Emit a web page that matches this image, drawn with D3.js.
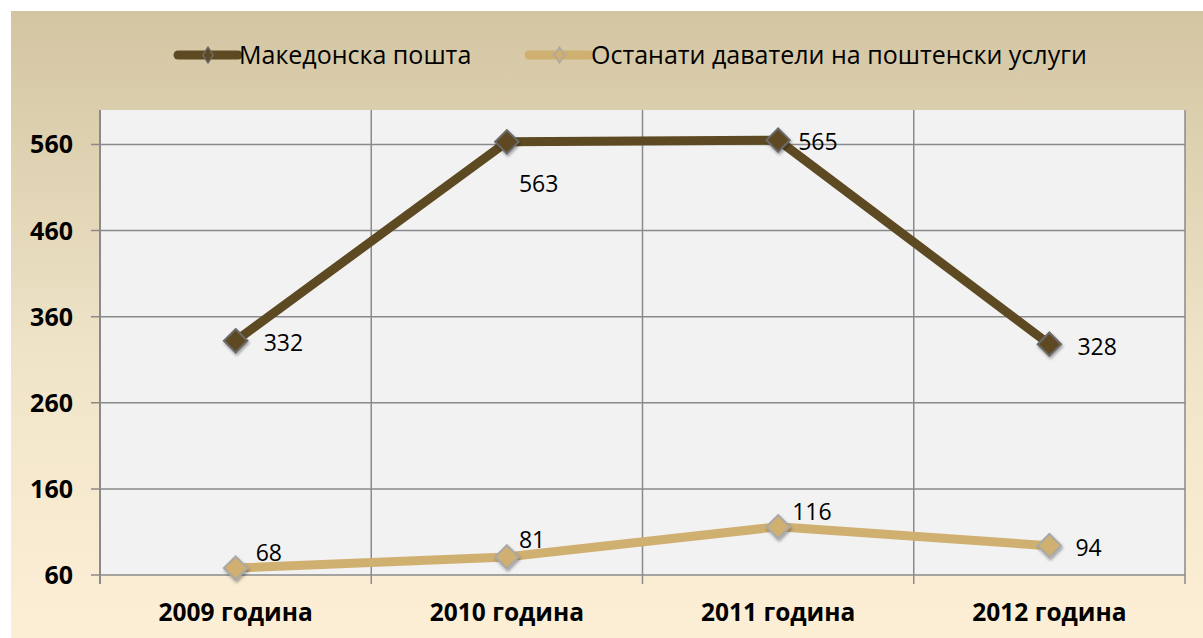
<!DOCTYPE html>
<html>
<head>
<meta charset="utf-8">
<script src="https://cdn.jsdelivr.net/npm/d3@7"></script>
<style>
  body { margin: 0; background: #fff; }
  svg { display: block; font-family: "Open Sans", "Noto Sans", sans-serif; }
</style>
</head>
<body>
<div id="chart"></div>
<script>
// chart values
var years = ["2009 година", "2010 година", "2011 година", "2012 година"];
var postaValues = [332, 563, 565, 328];
var otherValues = [68, 81, 116, 94];
var seriesNames = ["Македонска пошта", "Останати даватели на поштенски услуги"];
var yTicks = [60, 160, 260, 360, 460, 560];

var width = 1203;
var height = 638;
var plot = { left: 100, right: 1185, top: 110, bottom: 575 };

var svg = d3.select("#chart").append("svg")
    .attr("width", width)
    .attr("height", height);

var defs = svg.append("defs");
var grad = defs.append("linearGradient")
    .attr("id", "bg")
    .attr("x1", 0).attr("y1", 0).attr("x2", 0).attr("y2", 1);
grad.append("stop").attr("offset", "0%").attr("stop-color", "#d3c5a2");
grad.append("stop").attr("offset", "55%").attr("stop-color", "#efe4c8");
grad.append("stop").attr("offset", "100%").attr("stop-color", "#fdefd6");

var shadow = defs.append("filter").attr("id", "shadow")
    .attr("x", "-50%").attr("y", "-50%").attr("width", "200%").attr("height", "200%");
shadow.append("feDropShadow")
    .attr("dx", 1).attr("dy", 2).attr("stdDeviation", 1.5)
    .attr("flood-color", "#000").attr("flood-opacity", 0.35);

// outer panel
svg.append("rect")
    .attr("x", 11).attr("y", 11)
    .attr("width", width - 11).attr("height", height - 11)
    .attr("fill", "url(#bg)");

// plot background
svg.append("rect")
    .attr("x", plot.left).attr("y", plot.top)
    .attr("width", plot.right - plot.left).attr("height", plot.bottom - plot.top)
    .attr("fill", "#f2f2f2");

var x = d3.scaleBand()
    .domain(years)
    .range([plot.left, plot.right]);

var y = d3.scaleLinear()
    .domain([60, 600])
    .range([plot.bottom, plot.top]);

// horizontal gridlines
svg.append("g")
    .selectAll("line")
    .data(yTicks)
    .enter().append("line")
    .attr("x1", plot.left - 9)
    .attr("x2", plot.right)
    .attr("y1", function(d) { return y(d); })
    .attr("y2", function(d) { return y(d); })
    .attr("stroke", "#8a8a8a")
    .attr("stroke-width", 1.5);

// vertical gridlines between categories
svg.append("g")
    .selectAll("line")
    .data(years.slice(1))
    .enter().append("line")
    .attr("x1", function(d) { return x(d); })
    .attr("x2", function(d) { return x(d); })
    .attr("y1", plot.top)
    .attr("y2", plot.bottom + 9)
    .attr("stroke", "#8a8a8a")
    .attr("stroke-width", 1.5);

// y axis line
svg.append("line")
    .attr("x1", plot.left).attr("x2", plot.left)
    .attr("y1", plot.top).attr("y2", plot.bottom + 9)
    .attr("stroke", "#8a8a8a").attr("stroke-width", 2);

// right border
svg.append("line")
    .attr("x1", plot.right).attr("x2", plot.right)
    .attr("y1", plot.top).attr("y2", plot.bottom + 9)
    .attr("stroke", "#8a8a8a").attr("stroke-width", 1.5);

// y tick labels
svg.append("g")
    .selectAll("text")
    .data(yTicks)
    .enter().append("text")
    .attr("x", 73)
    .attr("y", function(d) { return y(d); })
    .attr("dy", "0.36em")
    .attr("text-anchor", "end")
    .attr("font-size", 25)
    .attr("font-weight", "bold")
    .attr("fill", "#000")
    .text(function(d) { return d; });

// x category labels
svg.append("g")
    .selectAll("text")
    .data(years)
    .enter().append("text")
    .attr("x", function(d) { return x(d) + x.bandwidth() / 2; })
    .attr("y", 612)
    .attr("dy", "0.36em")
    .attr("text-anchor", "middle")
    .attr("font-size", 24.5)
    .attr("font-weight", "bold")
    .attr("fill", "#000")
    .text(function(d) { return d; });

var series = [
    { name: seriesNames[0], values: postaValues, color: "#5e4a22", stroke: "#6b6b6b",
      labelPos: [[28, 2], [12, 42], [20, 2], [28, 2]] },
    { name: seriesNames[1], values: otherValues, color: "#d0b070", stroke: "#a8a8a8",
      labelPos: [[20, -15], [12, -17], [14, -15], [26, 2]] }
];

var line = d3.line()
    .x(function(d, i) { return x(years[i]) + x.bandwidth() / 2; })
    .y(function(d) { return y(d); });

var diamond = d3.symbol().type(d3.symbolDiamond2).size(350);

series.forEach(function(s) {
    var g = svg.append("g");
    g.append("path")
        .datum(s.values)
        .attr("d", line)
        .attr("fill", "none")
        .attr("stroke", s.color)
        .attr("stroke-width", 9)
        .attr("stroke-linejoin", "round");

    g.selectAll("path.marker")
        .data(s.values)
        .enter().append("path")
        .attr("class", "marker")
        .attr("d", diamond)
        .attr("transform", function(d, i) {
            return "translate(" + (x(years[i]) + x.bandwidth() / 2) + "," + y(d) + ")";
        })
        .attr("fill", s.color)
        .attr("stroke", s.stroke)
        .attr("stroke-width", 2)
        .attr("filter", "url(#shadow)");

    g.selectAll("text")
        .data(s.values)
        .enter().append("text")
        .attr("x", function(d, i) { return x(years[i]) + x.bandwidth() / 2 + s.labelPos[i][0]; })
        .attr("y", function(d, i) { return y(d) + s.labelPos[i][1]; })
        .attr("dy", "0.36em")
        .attr("font-size", 23)
        .attr("fill", "#000")
        .text(function(d) { return d; });
});

// legend
var legendItems = [
    { x: 178, textX: 238, s: series[0] },
    { x: 529, textX: 590, s: series[1] }
];
var legend = svg.append("g");
legendItems.forEach(function(item) {
    legend.append("line")
        .attr("x1", item.x).attr("x2", item.textX)
        .attr("y1", 55).attr("y2", 55)
        .attr("stroke", item.s.color)
        .attr("stroke-width", 9)
        .attr("stroke-linecap", "round");
    legend.append("path")
        .attr("d", d3.symbol().type(d3.symbolDiamond2).size(110))
        .attr("transform", "translate(" + ((item.x + item.textX) / 2) + ",55) scale(0.8,1.2)")
        .attr("fill", item.s.color)
        .attr("stroke", item.s.stroke)
        .attr("stroke-width", 1.5);
    legend.append("text")
        .attr("x", item.textX + 1)
        .attr("y", 55)
        .attr("dy", "0.36em")
        .attr("font-size", 25)
        .attr("fill", "#000")
        .text(item.s.name);
});
</script>
</body>
</html>
